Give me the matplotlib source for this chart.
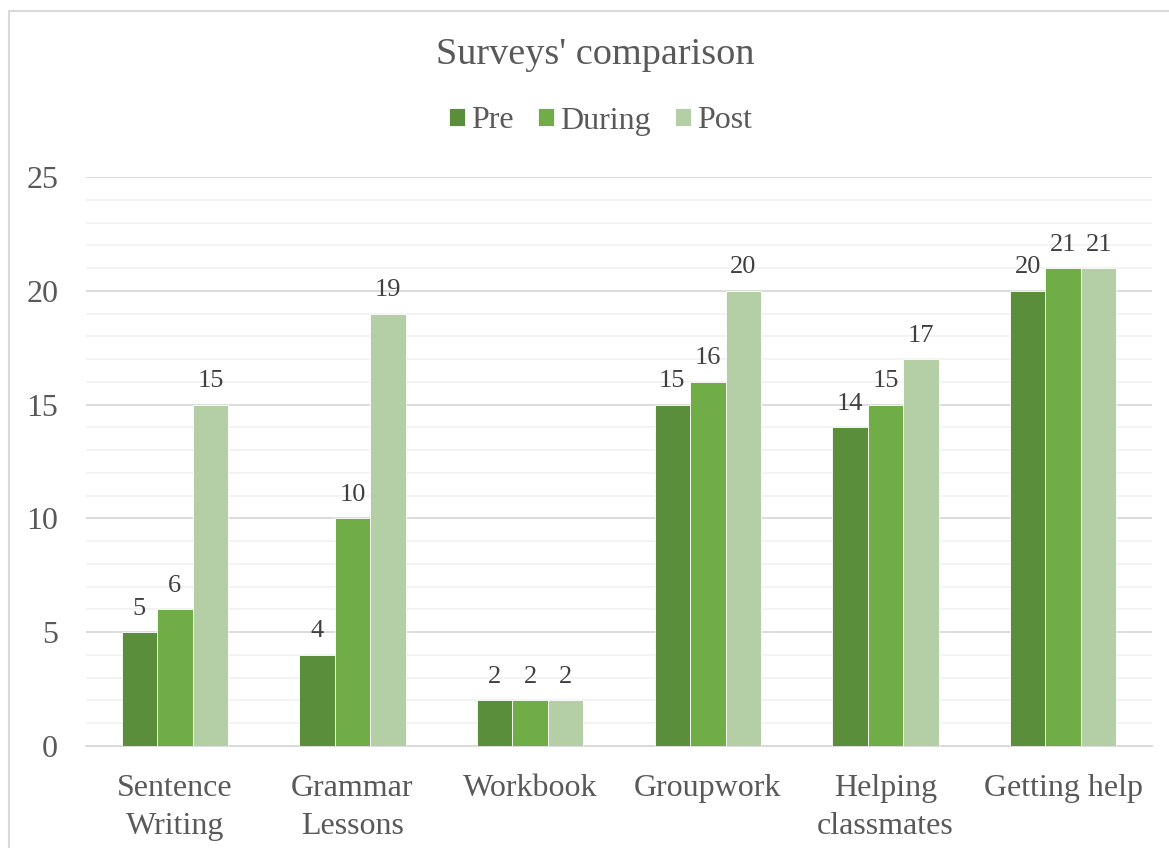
import matplotlib.pyplot as plt
import numpy as np

plt.rcParams['font.family'] = ['Liberation Serif', 'DejaVu Serif']

categories = ['Sentence\nWriting', 'Grammar\nLessons', 'Workbook', 'Groupwork',
              'Helping\nclassmates', 'Getting help']
pre = [5, 4, 2, 15, 14, 20]
during = [6, 10, 2, 16, 15, 21]
post = [15, 19, 2, 20, 17, 21]

series = [('Pre', pre, '#5B8E3A'), ('During', during, '#70AD47'), ('Post', post, '#B4CFA6')]
txt = '#595959'

fig = plt.figure(figsize=(11.69, 8.48), dpi=100)
ax = fig.add_axes([86 / 1169, 1 - 746 / 848, (1152 - 86) / 1169, (746 - 177) / 848])

# light frame along the top and left of the chart area
fig.add_artist(plt.Line2D([9 / 1169, 9 / 1169, 1.0], [0.0, 1 - 11 / 848, 1 - 11 / 848],
                          transform=fig.transFigure, color='#D9D9D9', linewidth=1.5))

x = np.arange(len(categories))
w = 0.2
for i, (name, vals, col) in enumerate(series):
    bars = ax.bar(x + (i - 1) * w, vals, w, color=col, label=name,
                  edgecolor='white', linewidth=0.6, zorder=3)
    for b, v in zip(bars, vals):
        ax.text(b.get_x() + b.get_width() / 2, v + 0.55, str(v), ha='center', va='bottom',
                fontsize=19, color='#404040')

ax.set_xlim(-0.5, len(categories) - 0.5)
ax.set_ylim(0, 25)
ax.set_yticks(range(0, 26, 5))
ax.set_yticks(range(0, 26), minor=True)
ax.yaxis.grid(True, which='major', color='#D9D9D9', linewidth=1.3, zorder=0)
ax.yaxis.grid(True, which='minor', color='#F0F0F0', linewidth=1.1, zorder=0)
ax.set_axisbelow(True)
ax.set_xticks(x)
ax.set_xticklabels(categories, fontsize=23, color=txt, linespacing=1.4)
ax.tick_params(axis='y', labelsize=23, labelcolor=txt, length=0, pad=20)
ax.tick_params(axis='x', length=0, pad=20)
ax.tick_params(axis='y', which='minor', length=0)
for s in ['top', 'right', 'left']:
    ax.spines[s].set_visible(False)
ax.spines['bottom'].set_color('#D9D9D9')
ax.spines['bottom'].set_linewidth(1.3)

fig.text(0.509, 1 - 55 / 848, "Surveys' comparison", ha='center', va='center',
         fontsize=27.5, color=txt)
fig.legend(loc='center', bbox_to_anchor=(0.5137, 1 - 121 / 848), ncol=3, frameon=False,
           fontsize=23, labelcolor=txt, handlelength=0.5, handleheight=0.5,
           handletextpad=0.2, columnspacing=0.75)

fig.savefig('out.png', dpi=100)
